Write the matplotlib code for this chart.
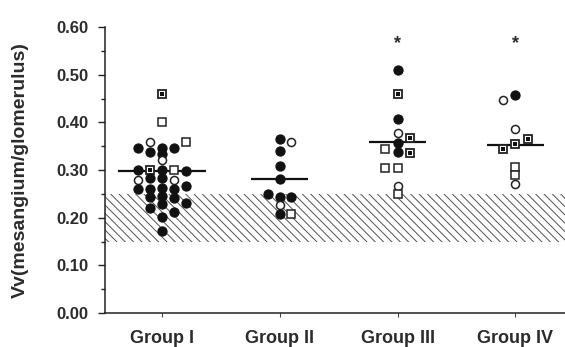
import matplotlib
matplotlib.use("Agg")
import matplotlib.pyplot as plt
from matplotlib.ticker import MultipleLocator, FormatStrFormatter

plt.rcParams['font.family'] = ['Liberation Sans', 'DejaVu Sans']
plt.rcParams['font.weight'] = 'bold'
plt.rcParams['hatch.linewidth'] = 0.7
plt.rcParams['hatch.color'] = '#505050'

TEXT = '#2b2b2b'

# ---- data ----------------------------------------------------------------
groups = ["Group I", "Group II", "Group III", "Group IV"]

# symbol kind per subject: 'filled' circle, 'open' circle, 'square', 'sqdot'
g1_kind = ['sqdot', 'square', 'open', 'filled', 'filled', 'filled', 'square',
           'filled', 'filled', 'open', 'filled', 'sqdot', 'filled', 'square',
           'filled', 'open', 'filled', 'filled', 'open', 'filled', 'filled',
           'filled', 'filled', 'filled', 'filled', 'filled', 'filled',
           'filled', 'filled', 'filled', 'filled', 'filled', 'filled']
g1_vals = [0.460, 0.400, 0.358, 0.347, 0.347, 0.347, 0.358,
           0.337, 0.334, 0.320, 0.300, 0.300, 0.300, 0.300,
           0.298, 0.279, 0.284, 0.283, 0.279, 0.267, 0.260,
           0.260, 0.263, 0.260, 0.244, 0.246, 0.242,
           0.220, 0.228, 0.230, 0.211, 0.202, 0.172]

g2_kind = ['filled', 'open', 'filled', 'filled', 'filled', 'filled',
           'filled', 'filled', 'open', 'filled', 'square']
g2_vals = [0.366, 0.358, 0.340, 0.309, 0.281, 0.249,
           0.244, 0.244, 0.227, 0.207, 0.207]

g3_kind = ['filled', 'sqdot', 'filled', 'open', 'sqdot', 'filled', 'square',
           'filled', 'sqdot', 'square', 'square', 'open', 'square']
g3_vals = [0.510, 0.459, 0.407, 0.378, 0.367, 0.356, 0.345,
           0.337, 0.336, 0.305, 0.305, 0.266, 0.249]

g4_kind = ['open', 'filled', 'open', 'sqdot', 'sqdot', 'sqdot',
           'square', 'square', 'open']
g4_vals = [0.446, 0.457, 0.386, 0.366, 0.354, 0.345,
           0.307, 0.289, 0.270]

group_means = [0.298, 0.281, 0.358, 0.352]
significant = [False, False, True, True]
normal_range = (0.15, 0.25)

# ---- layout: horizontal slot of each symbol within its group column ------
g1_slot = [0, 0, -1, -2, 0, 1, 2,
           -1, 0, 0, -2, -1, 0, 1,
           2, -2, -1, 0, 1, 2, -2,
           -1, 0, 1, -1, 0, 1,
           -1, 0, 2, 1, 0, 0]
g2_slot = [0, 1, 0, 0, 0, -1, 0, 1, 0, 0, 1]
g3_slot = [0, 0, 0, 0, 1, 0, -1, 0, 1, -1, 0, 0, 0]
g4_slot = [-1, 0, 0, 1, 0, -1, 0, 0, 0]
slot_step = [0.102, 0.1, 0.105, 0.107]
mean_halfwidth = [0.373, 0.24, 0.24, 0.24]

kinds = [g1_kind, g2_kind, g3_kind, g4_kind]
vals = [g1_vals, g2_vals, g3_vals, g4_vals]
slots = [g1_slot, g2_slot, g3_slot, g4_slot]

# ---- figure ------------------------------------------------------------
fig = plt.figure(figsize=(5.65, 3.47), dpi=100)
ax = fig.add_axes([105 / 565, 34 / 347, 460 / 565, 286 / 347])

ax.axhspan(*normal_range, facecolor='white', edgecolor='#505050',
           hatch='\\\\\\\\', linewidth=0, zorder=1)

style = {
    'filled': dict(marker='o', ms=6.6, mfc='#111111', mec='#111111', mew=0.8),
    'open': dict(marker='o', ms=5.8, mfc='white', mec='#222222', mew=1.1),
    'square': dict(marker='s', ms=5.4, mfc='white', mec='#222222', mew=1.1),
    'sqdot': dict(marker='s', ms=5.4, mfc='white', mec='#222222', mew=1.3),
}

for gi in range(len(groups)):
    xc = gi + 1
    hw = mean_halfwidth[gi]
    ax.plot([xc - hw, xc + hw], [group_means[gi]] * 2, color='#111111',
            lw=1.6, solid_capstyle='butt', zorder=2)
    for k, v, s in zip(kinds[gi], vals[gi], slots[gi]):
        x = xc + s * slot_step[gi]
        ax.plot([x], [v], linestyle='none', zorder=3, **style[k])
        if k == 'sqdot':
            ax.plot([x], [v], linestyle='none', marker='s', ms=2.2,
                    mfc='#111111', mec='#111111', mew=0, zorder=4)
    if significant[gi]:
        ax.text(xc, 0.565, '*', ha='center', va='center', fontsize=13,
                color=TEXT, fontweight='bold')

ax.set_xlim(0.52, 4.42)
ax.set_ylim(0, 0.6)

ax.spines['top'].set_visible(False)
ax.spines['right'].set_visible(False)
for sp in ('left', 'bottom'):
    ax.spines[sp].set_linewidth(1.1)
    ax.spines[sp].set_color('#222222')

ax.yaxis.set_major_locator(MultipleLocator(0.1))
ax.yaxis.set_minor_locator(MultipleLocator(0.05))
ax.yaxis.set_major_formatter(FormatStrFormatter('%.2f'))
ax.tick_params(axis='y', which='major', direction='out', length=5, width=1,
               pad=7, labelsize=12, labelcolor=TEXT, color='#222222')
ax.tick_params(axis='y', which='minor', direction='out', length=3, width=1,
               color='#222222')

ax.set_xticks(range(1, len(groups) + 1))
ax.set_xticklabels(groups)
ax.tick_params(axis='x', direction='out', length=3, width=0.8, pad=9,
               labelsize=13, labelcolor=TEXT, color='#444444')

ax.set_ylabel('Vv(mesangium/glomerulus)', fontsize=14, color=TEXT,
              fontweight='bold')
ax.yaxis.set_label_coords(-0.165, 0.5)

fig.savefig('out.png', dpi=100)
